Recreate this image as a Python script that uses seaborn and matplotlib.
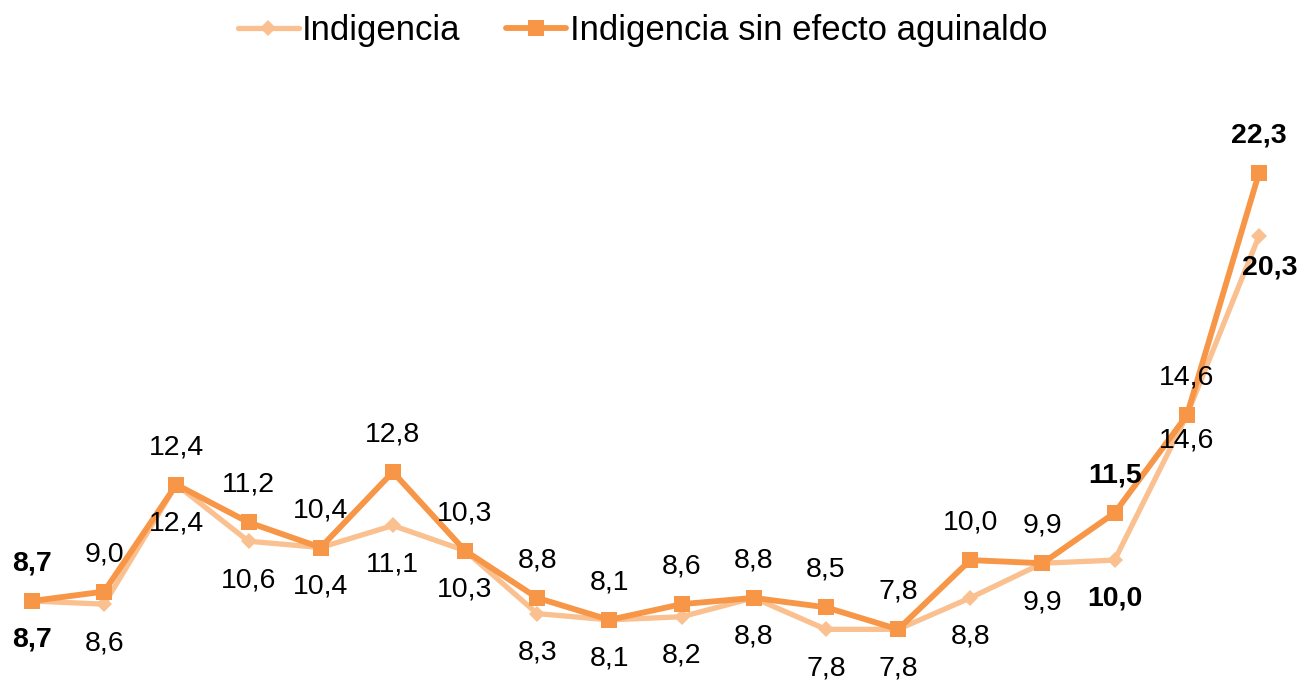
import numpy as np
import pandas as pd
import matplotlib.pyplot as plt
import seaborn as sns

# datos
indigencia = [8.7, 8.6, 12.4, 10.6, 10.4, 11.1, 10.3, 8.3, 8.1, 8.2, 8.8, 7.8, 7.8, 8.8, 9.9, 10.0, 14.6, 20.3]
sin_aguinaldo = [8.7, 9.0, 12.4, 11.2, 10.4, 12.8, 10.3, 8.8, 8.1, 8.6, 8.8, 8.5, 7.8, 10.0, 9.9, 11.5, 14.6, 22.3]
periodo = list(range(len(indigencia)))

# etiquetas en negrita (indices)
bold_ind = [0, 15, 17]
bold_sin = [0, 15, 17]

light = '#FAC090'
dark = '#F79646'

sns.set_style('white')
plt.rcParams['font.family'] = ['Liberation Sans', 'DejaVu Sans']
plt.rcParams['text.color'] = 'black'

fig = plt.figure(figsize=(13.14, 6.81), dpi=100)
ax = fig.add_axes([0, 0, 1, 1])

df = pd.DataFrame({'x': periodo, 'ind': indigencia, 'sin': sin_aguinaldo})

sns.lineplot(data=df, x='x', y='ind', ax=ax, color=light, linewidth=3.8,
             marker='D', markersize=8, markeredgewidth=0, label='Indigencia')
sns.lineplot(data=df, x='x', y='sin', ax=ax, color=dark, linewidth=4.2,
             marker='s', markersize=11, markeredgewidth=0,
             label='Indigencia sin efecto aguinaldo')

# etiquetas de datos
for i, v in enumerate(sin_aguinaldo):
    w = 'bold' if i in bold_sin else 'normal'
    ax.annotate(f'{v:.1f}'.replace('.', ','), (i, v), xytext=(0, 27),
                textcoords='offset points', ha='center', va='center',
                fontsize=20.5, fontweight=w, color='black')

for i, v in enumerate(indigencia):
    w = 'bold' if i in bold_ind else 'normal'
    dx, dy = 0, -28
    if i == 16:
        dy = -18
    if i == 17:
        dx, dy = 8, -23
    ax.annotate(f'{v:.1f}'.replace('.', ','), (i, v), xytext=(dx, dy),
                textcoords='offset points', ha='center', va='center',
                fontsize=20.5, fontweight=w, color='black')

ax.set_xlim(-0.443, 17.762)
ax.set_ylim(6.158, 27.80)
ax.axis('off')

leg = ax.legend(loc='center', bbox_to_anchor=(0.489, 0.955), ncol=2, frameon=False,
                fontsize=25, handlelength=1.75, handletextpad=0.1, columnspacing=1.3)
for t in leg.get_texts():
    t.set_color('black')

plt.savefig('out.png', dpi=100)
